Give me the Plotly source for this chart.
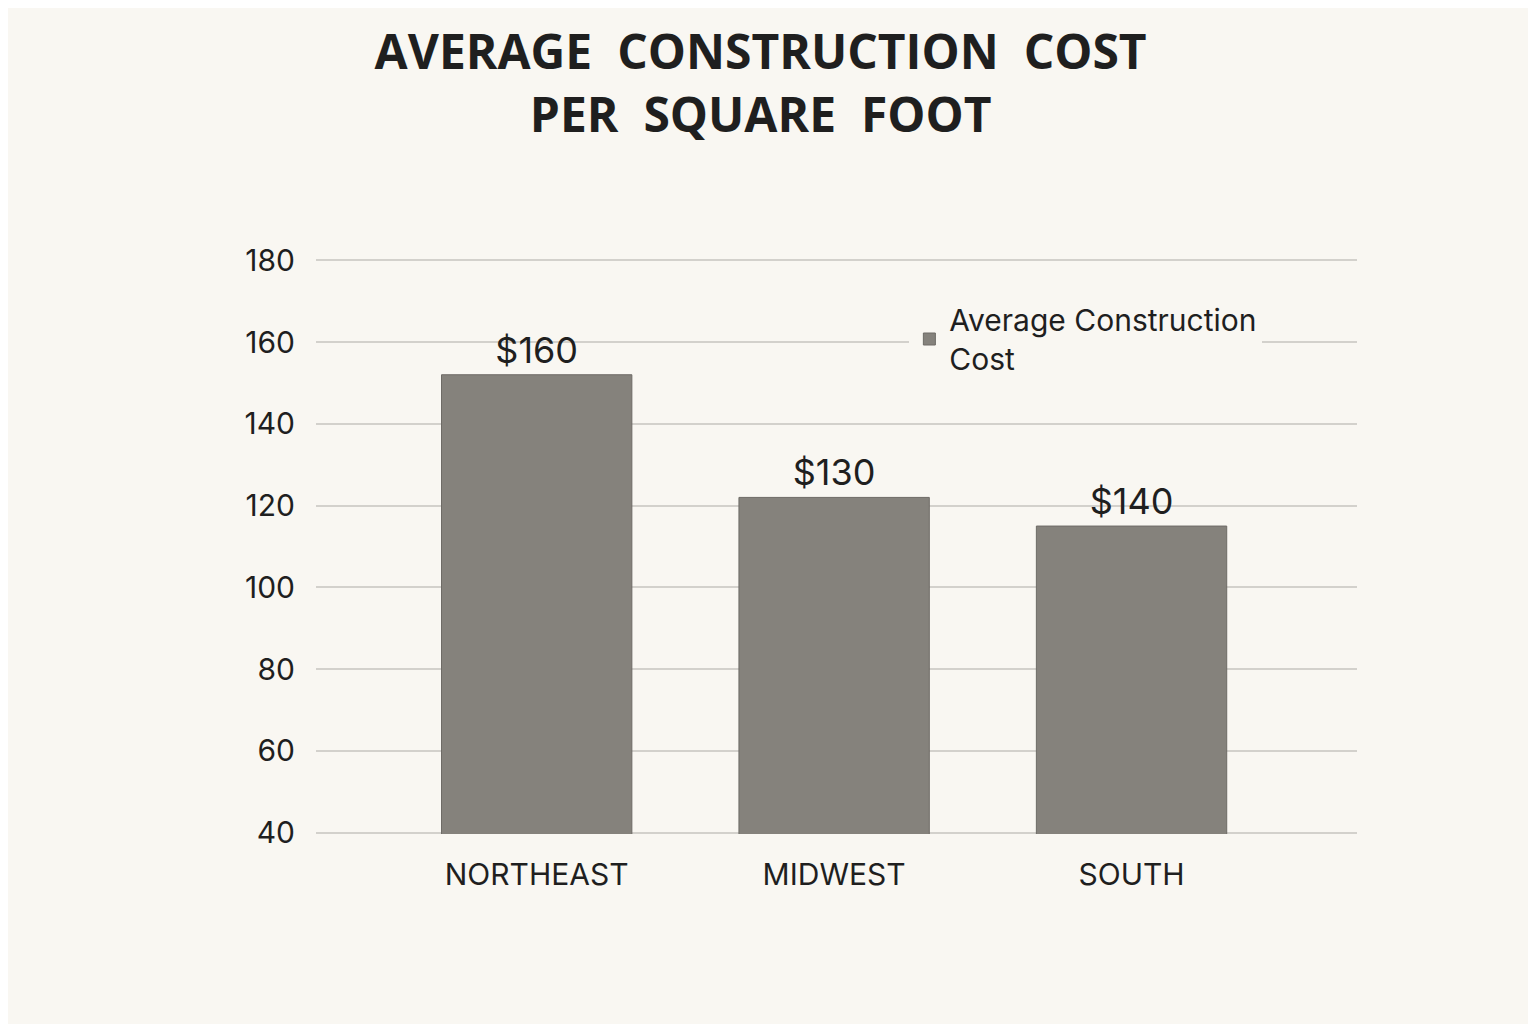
import plotly.graph_objects as go

regions = ["NORTHEAST", "MIDWEST", "SOUTH"]
bar_heights = [152, 122, 115]
bar_labels = ["$160", "$130", "$140"]
y_ticks = [40, 60, 80, 100, 120, 140, 160, 180]

BG = "#f9f7f2"
BAR = "#85827c"
INK = "#1f1f1f"
FONT = "Inter, Roboto, Noto Sans, sans-serif"

fig = go.Figure()
fig.add_trace(go.Bar(
    x=list(range(len(regions))), y=bar_heights,
    text=bar_labels, textposition="outside", cliponaxis=False,
    textfont=dict(size=36, color=INK, family=FONT),
    marker=dict(color=BAR, line=dict(color="#6e6b66", width=1)),
    width=0.64, name="Average Construction<br>Cost",
    showlegend=True,
))

fig.update_layout(
    width=1536, height=1024,
    paper_bgcolor=BG, plot_bgcolor=BG,
    margin=dict(l=308, r=187, t=251, b=198),
    font=dict(family=FONT, color=INK),
    title=dict(
        text="<b>AVERAGE  CONSTRUCTION  COST<br>PER  SQUARE  FOOT</b>",
        x=0.49, xanchor="center", y=0.94, yanchor="top",
        font=dict(size=48, color=INK, family="Open Sans, sans-serif"),
    ),
    legend=dict(
        x=0.57, xanchor="left", y=0.94, yanchor="top",
        bgcolor=BG, font=dict(size=30, color=INK, family=FONT),
        itemwidth=30,
    ),
    xaxis=dict(
        tickvals=list(range(len(regions))), ticktext=regions,
        range=[-0.742, 2.758], showgrid=False, zeroline=False,
        tickfont=dict(size=30, color=INK, family=FONT),
        ticks="", ticklabelstandoff=20,
    ),
    yaxis=dict(
        range=[39.7, 180.3], tickvals=y_ticks, showgrid=True,
        gridcolor="#d3d1cc", gridwidth=1.5, zeroline=False,
        tickfont=dict(size=30, color=INK, family=FONT),
        ticks="", ticklabelstandoff=20,
    ),
)

fig.write_html("out.html")
